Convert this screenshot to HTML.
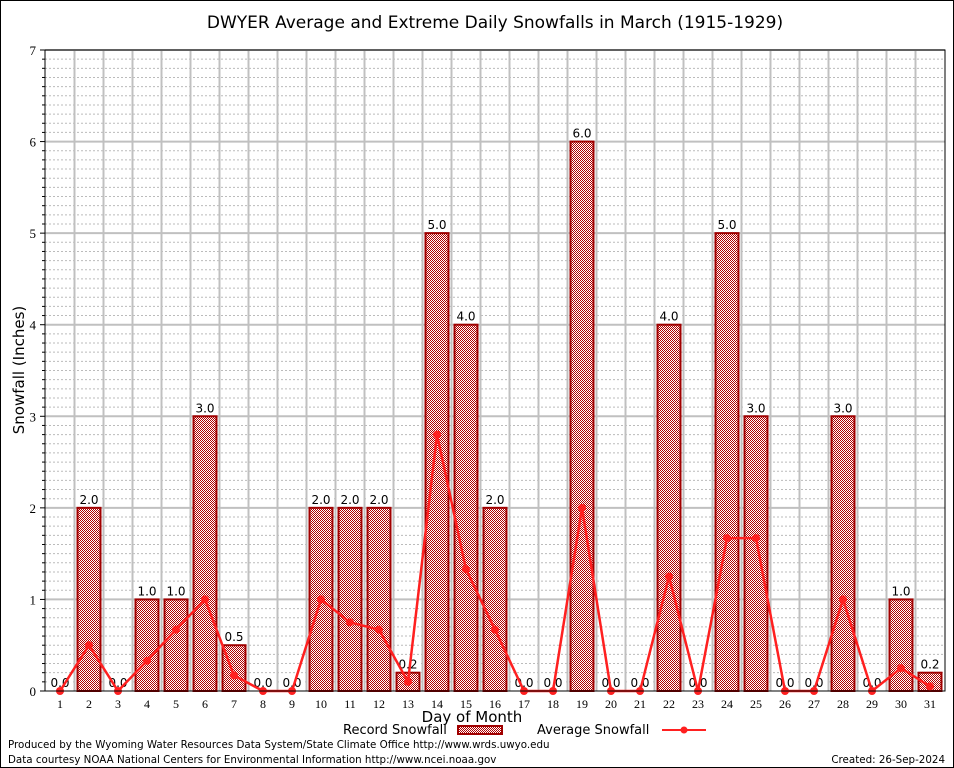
<!DOCTYPE html><html><head><style>body{margin:0;background:#fff}svg{display:block;font-family:"DejaVu Sans","Liberation Sans",sans-serif}</style></head><body>
<svg id="s" width="954" height="768" xmlns="http://www.w3.org/2000/svg">
<defs><pattern id="p" width="2" height="2" patternUnits="userSpaceOnUse"><rect width="2" height="2" fill="#fff"/><rect width="1" height="1" fill="#b00000"/><rect x="1" y="1" width="1" height="1" fill="#b00000"/></pattern></defs>
<rect x="0.5" y="0.5" width="953" height="767" fill="#fff" stroke="#000"/>
<g id="g"></g>
</svg>
<script>
const g=document.getElementById('g');let h='';
const L=45,R=945,T=50,B=691,Y=v=>B-v*(B-T)/7,X=d=>60+(d-1)*29;
for(let i=1;i<70;i++){if(i%10)h+=`<line x1="${L}" x2="${R}" y1="${Y(i/10)}" y2="${Y(i/10)}" stroke="#bbb" stroke-dasharray="2,2" stroke-width="1"/>`;}
for(let d=1;d<31;d++){const x=X(d)+14.5;h+=`<line x1="${x}" x2="${x}" y1="${T}" y2="${B}" stroke="#c0c0c0" stroke-width="2"/>`;}
for(let i=1;i<=7;i++)h+=`<line x1="${L}" x2="${R}" y1="${Y(i)}" y2="${Y(i)}" stroke="#c0c0c0" stroke-width="2"/>`;
for(let i=0;i<=7;i++){h+=`<line x1="${L-5}" x2="${L}" y1="${Y(i)}" y2="${Y(i)}" stroke="#000"/><text x="36" y="${Y(i)+5}" font-size="13" font-family="Liberation Serif" text-anchor="end">${i}</text>`;for(let j=1;j<10&&i<7;j++)h+=`<line x1="${L-3}" x2="${L}" y1="${Y(i+j/10)}" y2="${Y(i+j/10)}" stroke="#000"/>`;}
const rec=[0,2,0,1,1,3,0.5,0,0,2,2,2,0.2,5,4,2,0,0,6,0,0,4,0,5,3,0,0,3,0,1,0.2];
const av=[0,0.5,0,0.33,0.67,1,0.17,0,0,1,0.75,0.67,0.1,2.8,1.33,0.67,0,0,2,0,0,1.25,0,1.67,1.67,0,0,1,0,0.25,0.05];
rec.forEach((v,i)=>{const d=i+1,x=X(d);if(v>0)h+=`<rect x="${x-11.5}" y="${Y(v)}" width="23" height="${B-Y(v)}" fill="url(#p)" stroke="#a00000" stroke-width="2"/>`;
h+=`<rect x="${x-13}" y="${Y(v)-15}" width="26" height="13" fill="#fff"/><text x="${x}" y="${Y(v)-4}" font-size="12" text-anchor="middle">${v.toFixed(1)}</text>`;
h+=`<text x="${x}" y="708" font-size="12" font-family="Liberation Serif" text-anchor="middle">${d}</text>`;});
h+=`<polyline fill="none" stroke="#ff2020" stroke-width="2.5" points="${av.map((v,i)=>X(i+1)+','+Y(v)).join(' ')}"/>`;
av.forEach((v,i)=>h+=`<circle cx="${X(i+1)}" cy="${Y(v)}" r="4" fill="#ff2020"/>`);
h+=`<rect x="${L}" y="${T}" width="${R-L}" height="${B-T}" fill="none" stroke="#000"/>`;
h+=`<text x="495" y="28" font-size="17" text-anchor="middle">DWYER Average and Extreme Daily Snowfalls in March (1915-1929)</text>`;
h+=`<text x="472" y="722" font-size="15" text-anchor="middle">Day of Month</text>`;
h+=`<text transform="translate(24,370) rotate(-90)" font-size="15" text-anchor="middle">Snowfall (Inches)</text>`;
h+=`<text x="343" y="734" font-size="13">Record Snowfall</text><rect x="458" y="726" width="44" height="8" fill="url(#p)" stroke="#a00000" stroke-width="2"/>`;
h+=`<text x="537" y="734" font-size="13">Average Snowfall</text><line x1="662" x2="706" y1="730" y2="730" stroke="#ff2020" stroke-width="2"/><circle cx="684" cy="730" r="3.5" fill="#ff2020"/>`;
h+=`<text x="8" y="748" font-size="10.3">Produced by the Wyoming Water Resources Data System/State Climate Office http://www.wrds.uwyo.edu</text>`;
h+=`<text x="8" y="763" font-size="10.3">Data courtesy NOAA National Centers for Environmental Information http://www.ncei.noaa.gov</text>`;
h+=`<text x="945" y="763" font-size="10.3" text-anchor="end">Created:  26-Sep-2024</text>`;
g.innerHTML=h;
</script></body></html>
